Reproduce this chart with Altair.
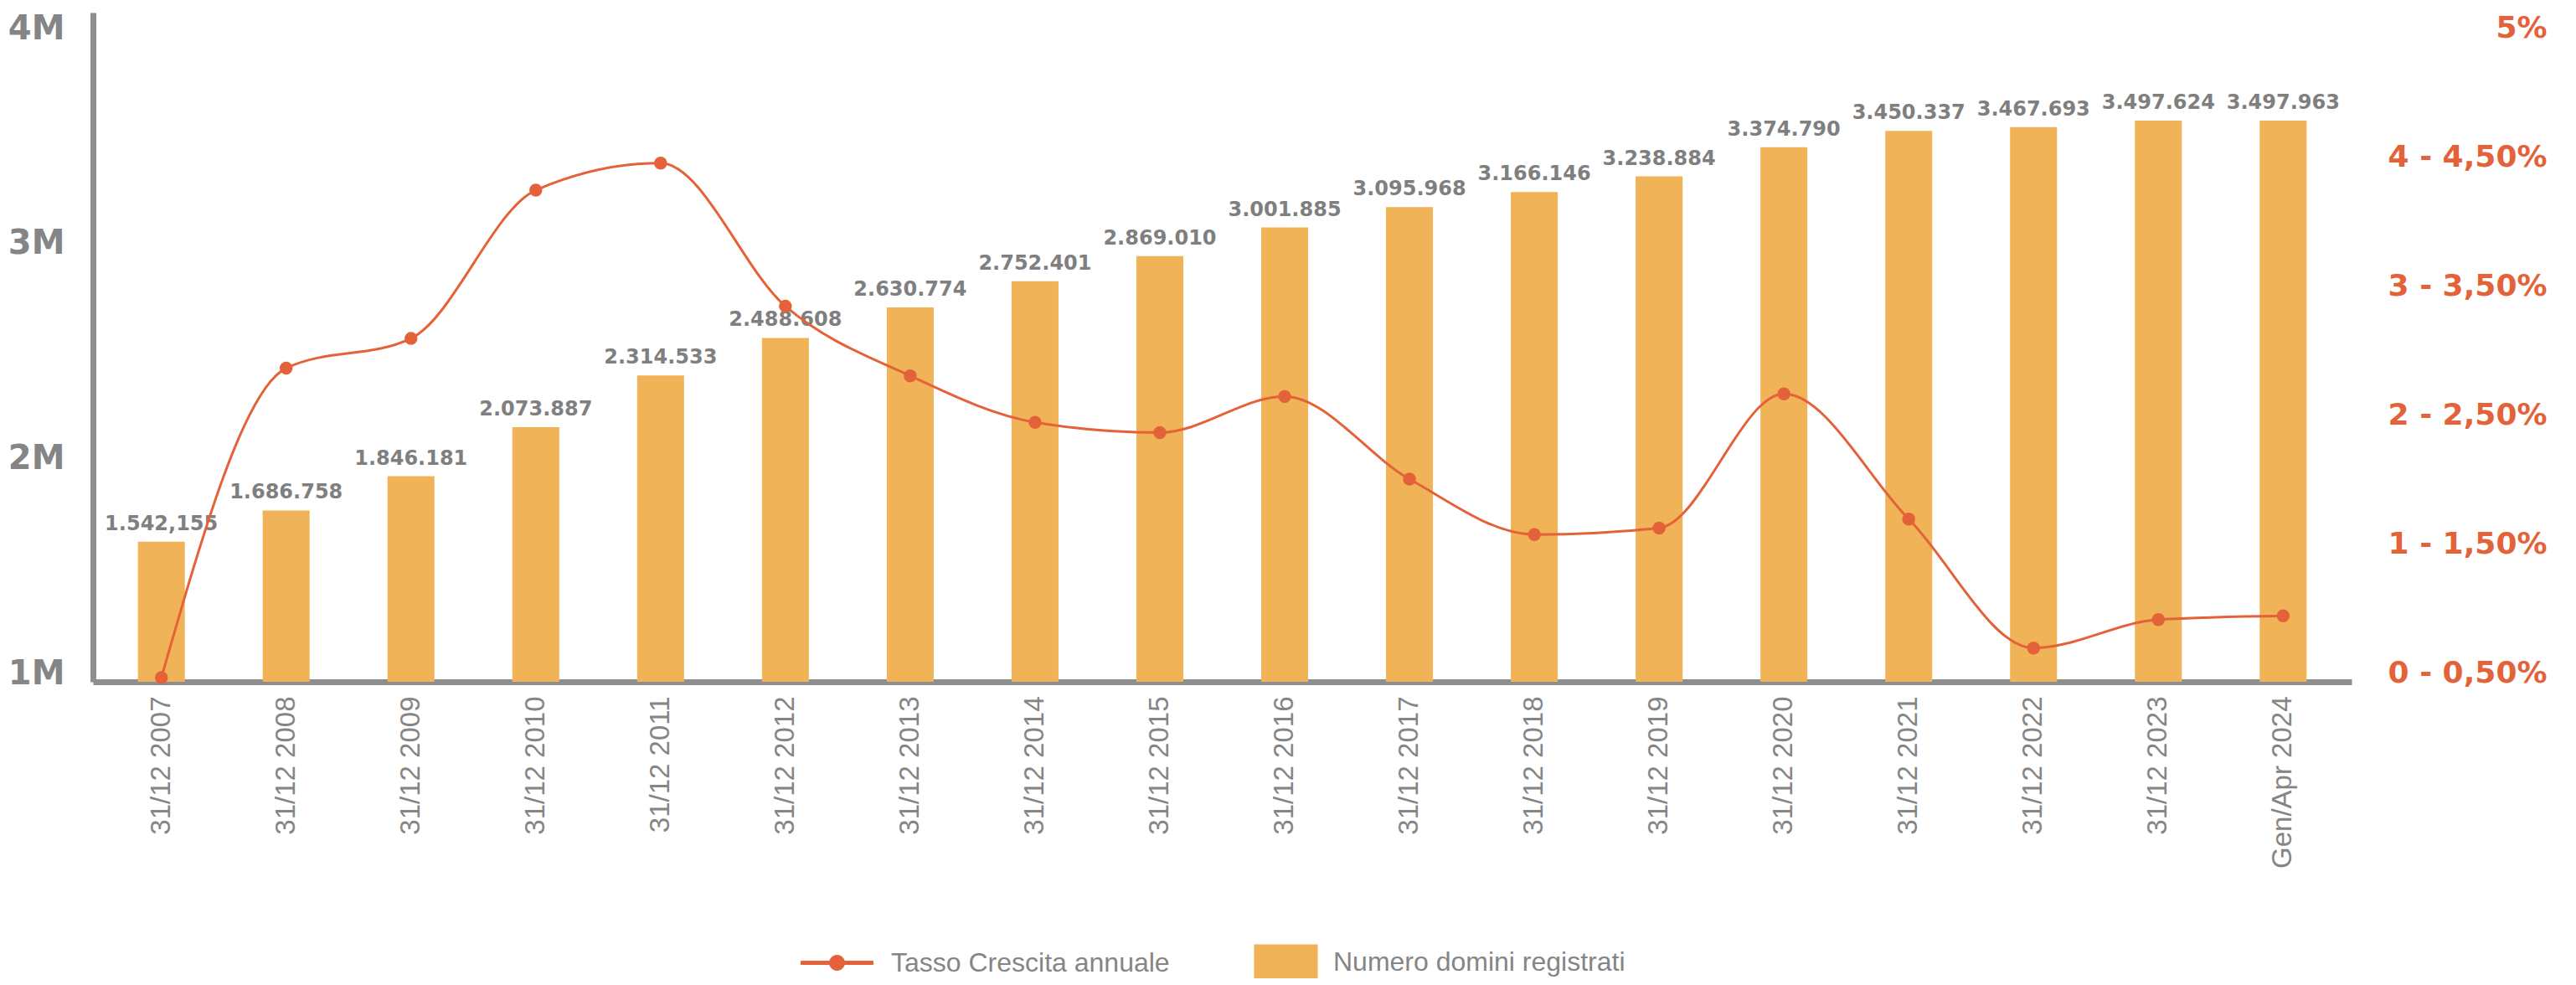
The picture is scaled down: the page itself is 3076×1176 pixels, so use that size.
import altair as alt
import pandas as pd

categories = ["31/12 2007", "31/12 2008", "31/12 2009", "31/12 2010", "31/12 2011",
              "31/12 2012", "31/12 2013", "31/12 2014", "31/12 2015", "31/12 2016",
              "31/12 2017", "31/12 2018", "31/12 2019", "31/12 2020", "31/12 2021",
              "31/12 2022", "31/12 2023", "Gen/Apr 2024"]
domini = [1542155, 1686758, 1846181, 2073887, 2314533, 2488608, 2630774, 2752401,
          2869010, 3001885, 3095968, 3166146, 3238884, 3374790, 3450337,
          3467693, 3497624, 3497963]
domini_labels = ["1.542,155", "1.686.758", "1.846.181", "2.073.887", "2.314.533",
                 "2.488.608", "2.630.774", "2.752.401", "2.869.010", "3.001.885",
                 "3.095.968", "3.166.146", "3.238.884", "3.374.790", "3.450.337",
                 "3.467.693", "3.497.624", "3.497.963"]
tasso = [0.0, 2.40, 2.63, 3.78, 3.99, 2.88, 2.34, 1.98, 1.90, 2.18,
         1.54, 1.11, 1.16, 2.20, 1.23, 0.23, 0.45, 0.48]

left_ticks = [1000000, 2000000, 3000000, 4000000]
left_tick_labels = ["1M", "2M", "3M", "4M"]
right_ticks = [0, 1, 2, 3, 4, 5]
right_tick_labels = ["0 - 0,50%", "1 - 1,50%", "2 - 2,50%", "3 - 3,50%", "4 - 4,50%", "5%"]

SERIES_LINE = "Tasso Crescita annuale"
SERIES_BAR = "Numero domini registrati"

BAR_BASE = 891000
BAR_COLOR = "#F0B357"
LINE_COLOR = "#E4623A"
GREY = "#858585"
AXIS_GREY = "#8E8E8E"

df = pd.DataFrame({
    "cat": categories,
    "domini": domini,
    "label": domini_labels,
    "tasso": tasso,
    "s_line": SERIES_LINE,
    "s_bar": SERIES_BAR,
})

left_expr = "{}[indexof({}, datum.value)]".format(
    "[" + ",".join("'%s'" % s for s in left_tick_labels) + "]",
    "[" + ",".join(str(v) for v in left_ticks) + "]")
right_expr = "{}[indexof({}, datum.value)]".format(
    "[" + ",".join("'%s'" % s for s in right_tick_labels) + "]",
    "[" + ",".join(str(v) for v in right_ticks) + "]")

x_enc = alt.X("cat:N", sort=categories,
              scale=alt.Scale(paddingInner=0.624, paddingOuter=0.36),
              axis=alt.Axis(title=None, labelAngle=270, labelAlign="right",
                            labelBaseline="middle", labelFont="Liberation Sans",
                            labelFontSize=33, labelColor=GREY, labelPadding=17,
                            ticks=False, tickSize=0, labelLimit=400,
                            domainColor=AXIS_GREY, domainWidth=7))

y_left = alt.Y("domini:Q",
               scale=alt.Scale(domain=[BAR_BASE, 4000000], zero=False, nice=False),
               axis=alt.Axis(title=None, values=left_ticks, labelExpr=left_expr,
                             labelFont="DejaVu Sans", labelFontWeight="bold",
                             labelFontSize=40, labelColor=GREY, labelPadding=34,
                             labelOffset=19, ticks=False, tickSize=0, grid=False,
                             domainColor=AXIS_GREY, domainWidth=7))

y_right = alt.Y("tasso:Q",
                scale=alt.Scale(domain=[-0.032, 5.157], zero=False, nice=False),
                axis=alt.Axis(title=None, orient="right", values=right_ticks,
                              labelExpr=right_expr, labelFont="DejaVu Sans",
                              labelFontWeight="bold", labelFontSize=36,
                              labelColor=LINE_COLOR, labelAlign="right",
                              labelPadding=233, labelOffset=-6, labelLimit=500,
                              ticks=False, tickSize=0, grid=False, domain=False))

line_symbol = ("M-1,-0.047L1,-0.047L1,0.047L-1,0.047Z "
               "M0.21,0A0.21,0.21 0 1,1 -0.21,0A0.21,0.21 0 1,1 0.21,0Z")
square_symbol = "M-1,-0.55L1,-0.55L1,1.45L-1,1.45Z"

bars = alt.Chart(df).mark_bar().encode(
    x=x_enc,
    y=y_left,
    y2=alt.datum(BAR_BASE),
    fill=alt.Fill("s_bar:N",
                  scale=alt.Scale(domain=[SERIES_BAR], range=[BAR_COLOR]),
                  legend=alt.Legend(title=None, orient="none", legendX=1386, legendY=1095,
                                    symbolType=square_symbol, symbolSize=5800,
                                    symbolStrokeWidth=0, labelFont="Liberation Sans",
                                    labelFontSize=32, labelColor=GREY, labelOffset=18,
                                    labelLimit=1000, padding=0)),
)

texts = alt.Chart(df).mark_text(font="DejaVu Sans", fontWeight="bold", fontSize=24,
                                color="#7F7F7F", dy=-14, baseline="alphabetic").encode(
    x=x_enc,
    y=y_left,
    text="label:N",
)

line = alt.Chart(df).mark_line(interpolate="monotone", strokeWidth=3).encode(
    x=x_enc,
    y=y_right,
    stroke=alt.Stroke("s_line:N",
                      scale=alt.Scale(domain=[SERIES_LINE], range=[LINE_COLOR]),
                      legend=alt.Legend(title=None, orient="none", legendX=845, legendY=1091,
                                        symbolType=line_symbol, symbolSize=7396,
                                        symbolFillColor=LINE_COLOR,
                                        symbolStrokeColor=LINE_COLOR,
                                        symbolStrokeWidth=1,
                                        labelFont="Liberation Sans", labelFontSize=32,
                                        labelColor=GREY, labelOffset=21, labelLimit=1000,
                                        padding=0)),
)

points = alt.Chart(df).mark_circle(size=240, color=LINE_COLOR, opacity=1).encode(
    x=x_enc,
    y=y_right,
)

chart = alt.layer(
    alt.layer(bars, texts),
    alt.layer(line, points),
).resolve_scale(y="independent").properties(
    width=2697,
    height=799,
    padding={"left": 103, "top": 7, "right": 260, "bottom": 354},
    autosize=alt.AutoSizeParams(type="none"),
).configure_view(stroke=None)

chart.save("out.html", embed_options={"renderer": "svg", "actions": False})
